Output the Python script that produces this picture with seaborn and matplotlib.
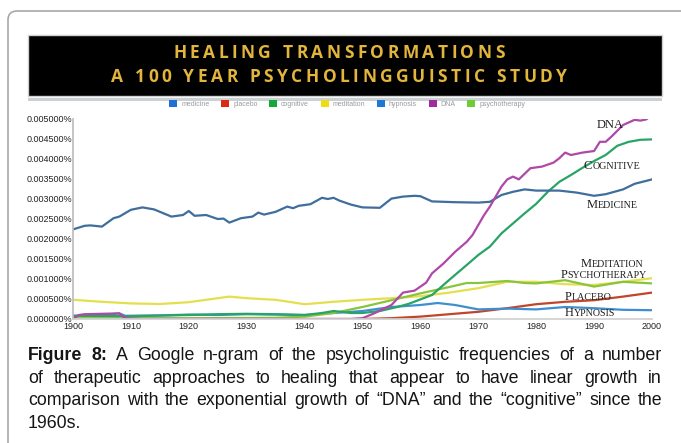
import numpy as np
import pandas as pd
import matplotlib
matplotlib.use('Agg')
import matplotlib.pyplot as plt
import seaborn as sns
from matplotlib.patches import FancyBboxPatch, Rectangle, Patch
from matplotlib.offsetbox import TextArea, HPacker, AnnotationBbox

# values (percent of corpus)
medicine_years = [1900, 1902, 1903, 1905, 1907, 1908, 1910, 1912, 1914, 1916, 1917, 1919, 1920,
                  1921, 1923, 1925, 1926, 1927, 1929, 1931, 1932, 1933, 1935, 1937, 1938, 1939,
                  1941, 1943, 1944, 1945, 1946, 1948, 1950, 1953, 1955, 1957, 1959, 1960, 1962,
                  1966, 1970, 1972, 1974, 1976, 1978, 1980, 1984, 1987, 1990, 1992, 1995, 1997, 2000]
medicine_pct = [0.00224, 0.00233, 0.00234, 0.00231, 0.00252, 0.00256, 0.00273, 0.00279, 0.00274,
                0.00262, 0.00256, 0.00260, 0.00270, 0.00258, 0.00260, 0.00250, 0.00251, 0.00241,
                0.00252, 0.00256, 0.00266, 0.00261, 0.00268, 0.00281, 0.00277, 0.00283, 0.00287,
                0.00303, 0.00300, 0.00303, 0.00296, 0.00286, 0.00279, 0.00278, 0.00301, 0.00306,
                0.00308, 0.00307, 0.00294, 0.00292, 0.00291, 0.00293, 0.00310, 0.00318, 0.00324,
                0.00321, 0.00321, 0.00316, 0.00308, 0.00312, 0.00324, 0.00338, 0.00349]

dna_years = [1900, 1901, 1902, 1905, 1908, 1909, 1912, 1948, 1950, 1952, 1955, 1957, 1959, 1961,
             1962, 1964, 1966, 1968, 1969, 1970, 1971, 1972, 1973, 1974, 1975, 1976, 1977, 1978,
             1979, 1981, 1983, 1984, 1985, 1986, 1988, 1990, 1991, 1992, 1993, 1995, 1997, 1998,
             1999, 2000]
dna_pct = [0.0, 0.00010, 0.00012, 0.00013, 0.00014, 0.00002, 0.0, 0.0, 0.00002, 0.00014, 0.00035,
           0.00066, 0.00071, 0.00091, 0.00114, 0.00139, 0.00168, 0.00193, 0.00210, 0.00235,
           0.00260, 0.00281, 0.00306, 0.00331, 0.00349, 0.00356, 0.00349, 0.00363, 0.00377,
           0.00381, 0.00391, 0.00402, 0.00416, 0.00410, 0.00416, 0.00420, 0.00443, 0.00443,
           0.00456, 0.00485, 0.00498, 0.00496, 0.00499, 0.00510]

cognitive_years = [1900, 1910, 1920, 1925, 1930, 1935, 1940, 1943, 1945, 1948, 1950, 1953, 1956,
                   1958, 1960, 1962, 1965, 1968, 1970, 1972, 1974, 1976, 1978, 1980, 1982, 1984,
                   1986, 1988, 1990, 1992, 1994, 1996, 1998, 2000]
cognitive_pct = [0.00008, 0.00007, 0.00010, 0.00012, 0.00013, 0.00012, 0.00010, 0.00015, 0.00020,
                 0.00015, 0.00015, 0.00020, 0.00030, 0.00038, 0.00049, 0.00060, 0.00098, 0.00135,
                 0.00160, 0.00181, 0.00214, 0.00239, 0.00264, 0.00288, 0.00318, 0.00343, 0.00360,
                 0.00378, 0.00395, 0.00410, 0.00433, 0.00443, 0.00448, 0.00449]

meditation_years = [1900, 1905, 1910, 1915, 1920, 1925, 1927, 1930, 1935, 1940, 1945, 1950, 1955,
                    1960, 1965, 1970, 1975, 1980, 1985, 1990, 1995, 2000]
meditation_pct = [0.00048, 0.00043, 0.00039, 0.000375, 0.00042, 0.00052, 0.00056, 0.00052, 0.00048,
                  0.00037, 0.00043, 0.00048, 0.00052, 0.00057, 0.00066, 0.00077, 0.00093, 0.00093,
                  0.00087, 0.00085, 0.00093, 0.00102]

hypnosis_years = [1900, 1905, 1908, 1909, 1915, 1920, 1925, 1930, 1935, 1940, 1945, 1950, 1955,
                  1960, 1963, 1966, 1970, 1975, 1980, 1985, 1990, 1995, 2000]
hypnosis_pct = [0.00008, 0.00010, 0.00014, 0.00008, 0.00009, 0.00011, 0.00010, 0.00012, 0.00011,
                0.00010, 0.00015, 0.00020, 0.00030, 0.00035, 0.00040, 0.00035, 0.00024, 0.00026,
                0.00024, 0.00030, 0.00027, 0.00023, 0.00022]

psychotherapy_years = [1900, 1920, 1935, 1940, 1945, 1950, 1955, 1960, 1965, 1968, 1970, 1975,
                       1978, 1980, 1985, 1990, 1995, 2000]
psychotherapy_pct = [0.00002, 0.00002, 0.00003, 0.00006, 0.00015, 0.00030, 0.00047, 0.00064,
                     0.00080, 0.00090, 0.00090, 0.00095, 0.00090, 0.00089, 0.00097, 0.00081,
                     0.00093, 0.00089]

placebo_years = [1900, 1950, 1955, 1960, 1965, 1970, 1975, 1980, 1985, 1990, 1995, 2000]
placebo_pct = [0.0, 0.0, 0.00002, 0.00006, 0.00012, 0.00018, 0.00027, 0.00037, 0.00043, 0.00047,
               0.00056, 0.00066]

legend_terms = ['medicine', 'placebo', 'cognitive', 'meditation', 'hypnosis', 'DNA', 'psychotherapy']
legend_colors = ['#1f6fd6', '#dd2a12', '#12a83a', '#f0dc14', '#1f78d6', '#a02aa0', '#6fcc33']

line_colors = {'placebo': '#c0452a', 'hypnosis': '#3f8fd0', 'meditation': '#e4df4c',
               'psychotherapy': '#8ac43c', 'cognitive': '#28a466', 'medicine': '#3f6e9c',
               'DNA': '#b048a8'}

caption_lines = [
    [('Figure', True), ('8:', True), ('A', False), ('Google', False), ('n-gram', False), ('of', False),
     ('the', False), ('psycholinguistic', False), ('frequencies', False), ('of', False), ('a', False),
     ('number', False)],
    [(w, False) for w in 'of therapeutic approaches to healing that appear to have linear growth in'.split()],
    [(w, False) for w in 'comparison with the exponential growth of \u201cDNA\u201d and the \u201ccognitive\u201d since the'.split()],
    [('1960s.', False)],
]


def small_caps(ax, word, x, y, big=9, small=7.2):
    '''
    Draws a word in small caps (big first letter) centred at data point x, y
    '''
    style = dict(family='Liberation Serif', color='#1e1e1e')
    if word.isupper():
        parts = [TextArea(word, textprops=dict(size=big, **style))]
    else:
        parts = [TextArea(word[0], textprops=dict(size=big, **style)),
                 TextArea(word[1:].upper(), textprops=dict(size=small, **style))]
    box = HPacker(children=parts, align='baseline', pad=0, sep=0)
    ab = AnnotationBbox(box, (x, y), xycoords='data', frameon=False, box_alignment=(0.5, 0.5))
    ax.add_artist(ab)


def spaced_title(fig, line, x, y):
    '''
    Title line with letter spacing, drawn char by char
    '''
    props = dict(size=12.5, family='Open Sans', weight='bold', color='#e3b53c')
    words = []
    for w in line.split():
        chars = [TextArea(c, textprops=props) for c in w]
        words.append(HPacker(children=chars, align='baseline', pad=0, sep=2.5))
    box = HPacker(children=words, align='baseline', pad=0, sep=8.5)
    ab = AnnotationBbox(box, (x, y), xycoords='figure fraction', frameon=False,
                        box_alignment=(0.5, 0.5))
    fig.add_artist(ab)


def justify_caption(fig, lines, left, right, first_base, step, size=12.5):
    '''
    Writes the caption with justified lines (last line left aligned)
    '''
    renderer = fig.canvas.get_renderer()
    W, H = fig.bbox.width, fig.bbox.height
    for i, words in enumerate(lines):
        y = 1 - (first_base + i * step) / H
        texts = [fig.text(0, y, w, fontsize=size, fontweight='bold' if b else 'normal',
                          ha='left', va='baseline', color='#151515') for w, b in words]
        widths = [t.get_window_extent(renderer).width for t in texts]
        if i < len(lines) - 1 and len(texts) > 1:
            gap = (right - left - sum(widths)) / (len(texts) - 1)
        else:
            gap = size * 0.28 * fig.dpi / 72
        xpos = left
        for t, w in zip(texts, widths):
            t.set_x(xpos / W)
            xpos += w + gap


series = [('placebo', placebo_years, placebo_pct), ('hypnosis', hypnosis_years, hypnosis_pct),
          ('meditation', meditation_years, meditation_pct),
          ('psychotherapy', psychotherapy_years, psychotherapy_pct),
          ('cognitive', cognitive_years, cognitive_pct), ('medicine', medicine_years, medicine_pct),
          ('DNA', dna_years, dna_pct)]
df = pd.concat([pd.DataFrame({'year': y, 'pct': v, 'term': n}) for n, y, v in series],
               ignore_index=True)

sns.set_theme(style='white')
plt.rcParams['font.family'] = ['Liberation Sans', 'DejaVu Sans']

fig = plt.figure(figsize=(6.81, 4.43), dpi=100)
fig.patch.set_facecolor('white')

# frame and banner
fig.add_artist(FancyBboxPatch((0.08, -1.0), 8.0, 5.32, boxstyle='round,pad=0,rounding_size=0.09',
                              transform=fig.dpi_scale_trans, fill=False, ec='#a8a8a8', lw=1.2))
fig.add_artist(Rectangle((0.28, 3.47), 6.34, 0.61, transform=fig.dpi_scale_trans,
                         fc='black', ec='#d0d0d0', lw=1))
fig.add_artist(Rectangle((0.28, 3.425), 6.34, 0.03, transform=fig.dpi_scale_trans,
                         fc='#c9d1d3', ec='none'))
spaced_title(fig, 'HEALING TRANSFORMATIONS', 339 / 681, 1 - 52.5 / 443)
spaced_title(fig, 'A 100 YEAR PSYCHOLINGGUISTIC STUDY', 339 / 681, 1 - 77 / 443)

ax = fig.add_axes([73 / 681, 1 - 319 / 443, 579 / 681, 200 / 443])
sns.lineplot(data=df, x='year', y='pct', hue='term', hue_order=[s[0] for s in series],
             palette=line_colors, legend=False, linewidth=1.6, estimator=None, ax=ax)

ax.set_xlim(1900, 2000)
ax.set_ylim(0, 0.005)
ax.set_xticks(range(1900, 2001, 10))
ax.set_xticklabels([str(y) for y in range(1900, 2001, 10)])
yt = np.arange(0, 0.00501, 0.0005)
ax.set_yticks(yt)
ax.set_yticklabels([f'{v:.6f}%' for v in yt])
ax.set_xticks([1920, 1940, 1960, 1980], minor=True)
ax.set_yticks([0.001, 0.002, 0.003, 0.004, 0.005], minor=True)
ax.grid(False)
ax.grid(which='minor', color='#c9c9c9', lw=1.3)
ax.set_axisbelow(True)
ax.tick_params(which='both', length=0, labelsize=6.5, labelcolor='#222222')
ax.tick_params(axis='x', pad=2.5)
ax.tick_params(axis='y', pad=0.8)
ax.set_xlabel('')
ax.set_ylabel('')
for side in ['top', 'right']:
    ax.spines[side].set_visible(False)
ax.spines['left'].set_color('#bdbdbd')
ax.spines['bottom'].set_color('#d0d0d0')
ax.set_facecolor('white')

small_caps(ax, 'DNA', 1992.7, 0.00485)
small_caps(ax, 'Cognitive', 1993.1, 0.00383)
small_caps(ax, 'Medicine', 1993.1, 0.00285)
small_caps(ax, 'Meditation', 1993.1, 0.00138)
small_caps(ax, 'Psychotherapy', 1991.7, 0.00110)
small_caps(ax, 'Placebo', 1988.9, 0.00055)
small_caps(ax, 'Hypnosis', 1989.3, 0.00015)

handles = [Patch(facecolor=c, edgecolor='none', label=t) for t, c in zip(legend_terms, legend_colors)]
fig.legend(handles=handles, loc='center', bbox_to_anchor=(0.51, 1 - 104 / 443), ncol=7,
           frameon=False, fontsize=5, handlelength=1.1, handleheight=1.1, columnspacing=1.7,
           handletextpad=0.6, labelcolor='#9a9a9a')

justify_caption(fig, caption_lines, 28, 662, 360, 22.7, size=12.8)

plt.savefig('out.png', dpi=100)
